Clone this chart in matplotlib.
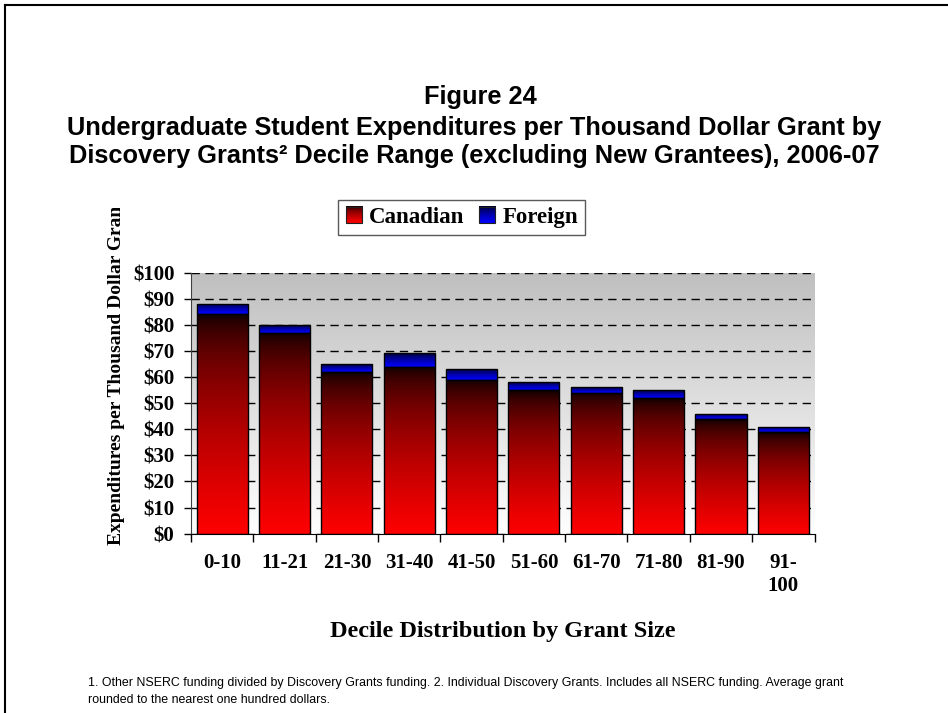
import numpy as np
import matplotlib
matplotlib.use("Agg")
import matplotlib.pyplot as plt
from matplotlib.colors import ListedColormap
from matplotlib.lines import Line2D
from matplotlib.patches import Rectangle
from matplotlib.legend_handler import HandlerBase
from matplotlib.image import BboxImage
from matplotlib.transforms import Bbox, TransformedBbox

# data ($ per thousand dollar grant)
deciles = ['0-10', '11-21', '21-30', '31-40', '41-50', '51-60',
           '61-70', '71-80', '81-90', '91-\n100']
canadian = [84, 77, 62, 64, 59, 55, 54, 52, 44, 39]
foreign = [4, 3, 3, 5, 4, 3, 2, 3, 2, 2]
yticks = list(range(0, 101, 10))

W, H = 948, 713
SERIF = 'Liberation Serif'
SANS = 'Liberation Sans'

# gradients: bright colour at the bottom, fading to black at the top
t = np.linspace(0, 1, 256)
red_cmap = ListedColormap(np.column_stack([(1 - t) ** 0.55, 0 * t, 0 * t]))
blue_cmap = ListedColormap(np.column_stack([0 * t, 0 * t, 0.05 + 0.95 * (1 - t) ** 0.6]))
bg_cmap = ListedColormap(np.column_stack([1 - 0.25 * t] * 3))
ramp = t.reshape(-1, 1)

fig = plt.figure(figsize=(W / 100, H / 100), dpi=100)
ax = fig.add_axes([191 / W, 1 - 533.7 / H, 623.5 / W, 261.2 / H])

x = np.arange(len(deciles))
ax.set_xlim(-0.5, len(deciles) - 0.5)
ax.set_ylim(0, 100)

# plot area background
ax.imshow(ramp, extent=[-0.5, len(deciles) - 0.5, 0, 100], origin='lower',
          cmap=bg_cmap, aspect='auto', zorder=0, interpolation='bilinear')

bars_c = ax.bar(x, canadian, width=0.82, facecolor='none', edgecolor='black',
                linewidth=1, zorder=3)
bars_f = ax.bar(x, foreign, bottom=canadian, width=0.82, facecolor='none',
                edgecolor='black', linewidth=1, zorder=3)

def fill_gradient(bars, cmap):
    for b in bars:
        x0, y0 = b.get_x(), b.get_y()
        im = ax.imshow(ramp, extent=[x0, x0 + b.get_width(), y0, y0 + b.get_height()],
                       origin='lower', cmap=cmap, aspect='auto', zorder=2,
                       interpolation='bilinear')
        im.set_clip_path(b)

fill_gradient(bars_c, red_cmap)
fill_gradient(bars_f, blue_cmap)
ax.set_xlim(-0.5, len(deciles) - 0.5)
ax.set_ylim(0, 100)

# grid and axes
ax.set_yticks(yticks)
ax.set_yticklabels([f'${v}' for v in yticks], fontfamily=SERIF, fontweight='bold',
                   fontsize=15)
ax.yaxis.grid(True, color='black', linestyle=(0, (6, 4)), linewidth=1)
ax.set_axisbelow(True)
for g in ax.yaxis.get_gridlines():
    g.set_zorder(1)
ax.tick_params(axis='y', direction='out', length=5, width=1, pad=7)

ax.set_xticks(x)
ax.set_xticklabels(deciles, fontfamily=SERIF, fontweight='bold', fontsize=15)
ax.set_xticks(np.arange(len(deciles) + 1) - 0.5, minor=True)
ax.tick_params(axis='x', which='major', direction='in', length=4, width=1, pad=14)
ax.tick_params(axis='x', which='minor', direction='out', length=6, width=1)

for s in ['top', 'right']:
    ax.spines[s].set_visible(False)
ax.spines['left'].set_color('#404040')
ax.spines['bottom'].set_color('black')

# legend with gradient swatches
class GradHandler(HandlerBase):
    def __init__(self, cmap):
        super().__init__()
        self.cmap = cmap

    def create_artists(self, legend, orig_handle, xdescent, ydescent,
                       width, height, fontsize, trans):
        s = height * 1.0
        x0 = -xdescent + width - s
        y0 = -ydescent
        bb = TransformedBbox(Bbox.from_bounds(x0, y0, s, s), trans)
        img = BboxImage(bb, cmap=self.cmap, interpolation='bilinear', origin='lower')
        img.set_data(ramp)
        rect = Rectangle((x0, y0), s, s, fill=False, edgecolor='#202020',
                         linewidth=0.8, transform=trans)
        return [img, rect]

h_c = Rectangle((0, 0), 1, 1)
h_f = Rectangle((0, 0), 1, 1)
leg = fig.legend([h_c, h_f], ['Canadian', 'Foreign'], loc='center',
                 bbox_to_anchor=(461.5 / W, 1 - 217.5 / H), ncol=2,
                 handler_map={h_c: GradHandler(red_cmap), h_f: GradHandler(blue_cmap)},
                 prop={'family': SERIF, 'weight': 'bold', 'size': 16.5},
                 frameon=True, fancybox=False, edgecolor='#303030',
                 handlelength=0.75, handletextpad=0.3, columnspacing=0.6,
                 borderpad=0.3, borderaxespad=0)
leg.get_frame().set_linewidth(1)

# axis titles
ylab = fig.text(117 / W, 1 - 545 / H, 'Expenditures per Thousand Dollar Grant',
                rotation=90, ha='center', va='bottom', fontfamily=SERIF,
                fontweight='bold', fontsize=14)
ylab.set_clip_box(Bbox.from_extents(0, 0, W, H - 208))
fig.text(503 / W, 1 - 632 / H, 'Decile Distribution by Grant Size', ha='center',
         va='center', fontfamily=SERIF, fontweight='bold', fontsize=17.5)

# titles
title_kw = dict(ha='center', va='center', fontfamily=SANS, fontweight='bold',
                fontsize=18.3)
fig.text(480 / W, 1 - 97 / H, 'Figure 24', **title_kw)
fig.text(474 / W, 1 - 128 / H,
         'Undergraduate Student Expenditures per Thousand Dollar Grant by', **title_kw)
fig.text(474 / W, 1 - 156 / H,
         'Discovery Grants\u00b2 Decile Range (excluding New Grantees), 2006-07',
         **title_kw)

# footnote
fig.text(88 / W, 1 - 683 / H,
         '1. Other NSERC funding divided by Discovery Grants funding. 2. Individual '
         'Discovery Grants. Includes all NSERC funding. Average grant',
         ha='left', va='center', fontfamily=SANS, fontsize=8.9)
fig.text(88 / W, 1 - 700 / H, 'rounded to the nearest one hundred dollars.',
         ha='left', va='center', fontfamily=SANS, fontsize=8.9)

# page border (top and left only)
fig.add_artist(Line2D([5 / W, 1], [1 - 5 / H, 1 - 5 / H], color='black',
                      linewidth=1.5, transform=fig.transFigure))
fig.add_artist(Line2D([5 / W, 5 / W], [0, 1 - 5 / H], color='black',
                      linewidth=1.5, transform=fig.transFigure))

fig.savefig('out.png', dpi=100, facecolor='white')
